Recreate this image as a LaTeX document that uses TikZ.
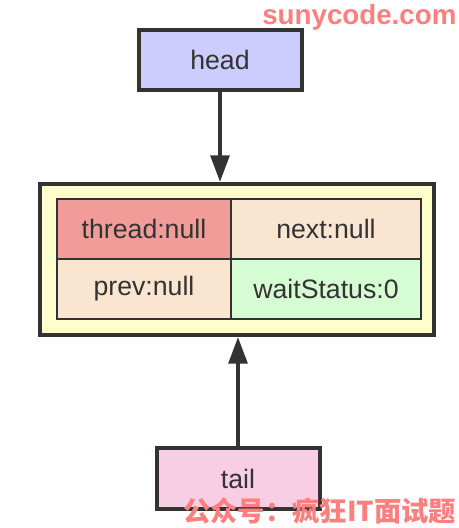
\documentclass[tikz,border=0pt]{standalone}
\usepackage{fontspec}
\setmainfont{Liberation Sans}
\newfontfamily\cjk{Noto Sans CJK SC}
\usetikzlibrary{arrows.meta, positioning}
\definecolor{qdark}{HTML}{333333}
\definecolor{qhead}{HTML}{CCCCFF}
\definecolor{qtail}{HTML}{F8CEE5}
\definecolor{qnode}{HTML}{FFFFCC}
\definecolor{qthread}{HTML}{F19C99}
\definecolor{qfield}{HTML}{FAE5D1}
\definecolor{qwait}{HTML}{D5FCD3}
\definecolor{qmark}{HTML}{FF7F7F}

\begin{document}
\begin{tikzpicture}[
  x=0.75pt, y=-0.75pt,
  every node/.style={font=\fontsize{20}{23}\selectfont, text=qdark},
  ptrbox/.style={rectangle, draw=qdark, line width=3pt, minimum width=122.25pt, minimum height=45pt, inner sep=0pt},
  cell/.style={rectangle, draw=qdark, line width=1.5pt, minimum height=45pt, inner sep=0pt},
  arw/.style={draw=qdark, line width=3pt, -{Triangle[length=20pt, width=14pt]}},
  wmark/.style={text=qmark, anchor=base west, inner sep=0pt},
]
\useasboundingbox (0,0) rectangle (458,528);

% queue node with its fields
\node[rectangle, draw=qdark, line width=3pt, fill=qnode, minimum width=295.5pt, minimum height=113.25pt] (qnode) at (237, 259.5) {};
\node[cell, fill=qthread, minimum width=130.5pt] (thread) at (144, 229) {thread:null};
\node[cell, fill=qfield, minimum width=142.5pt] (next) at (326, 229) {next:null};
\node[cell, fill=qfield, minimum width=130.5pt] (prev) at (144, 289) {prev:null};
\node[cell, fill=qwait, minimum width=142.5pt] (wait) at (326, 289) {waitStatus:0};

% head and tail pointers
\node[ptrbox, fill=qhead] (head) at (220, 60) {head};
\node[ptrbox, fill=qtail, minimum height=45.75pt] (tail) at (238, 478.5) {tail};

\draw[arw] (head.south) -- (head.south |- qnode.north);
\draw[arw] (tail.north) -- (tail.north |- qnode.south);

% watermarks
\node[wmark, font=\fontsize{20.8}{24}\selectfont\bfseries] (site) at (262, 25) {sunycode.com};
\node[wmark, font=\fontsize{20.5}{24}\selectfont\cjk\bfseries] (pub) at (183, 521) {公众号：疯狂IT面试题};
\end{tikzpicture}
\end{document}
